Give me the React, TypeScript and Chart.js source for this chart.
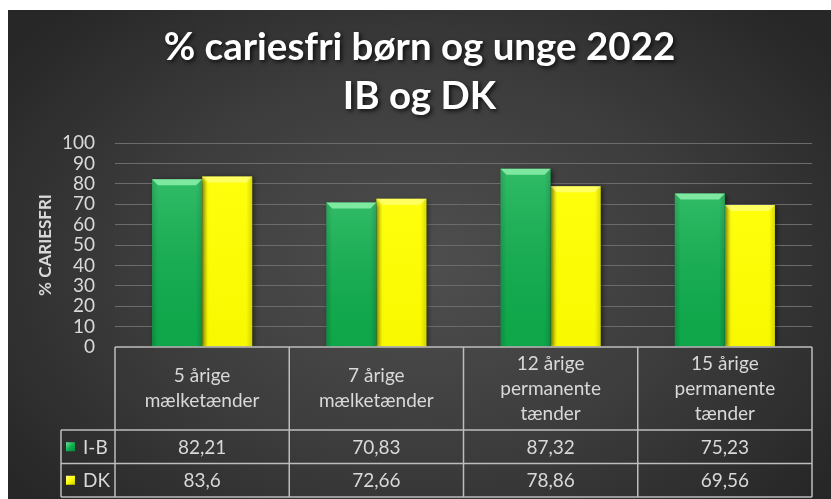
import React, { useEffect, useRef } from "react";
import { Chart, registerables } from "chart.js";

Chart.register(...registerables);

const TITLE_LINES = ["% cariesfri børn og unge 2022", "IB og DK"];
const Y_AXIS_TITLE = "% CARIESFRI";
const CATEGORY_LINES = [
  ["5 årige", "mælketænder"],
  ["7 årige", "mælketænder"],
  ["12 årige", "permanente", "tænder"],
  ["15 årige", "permanente", "tænder"],
];
const CATEGORIES = CATEGORY_LINES.map((l) => l.join(" "));
const SERIES_NAMES = ["I-B", "DK"];
const IB_VALUES = [82.21, 70.83, 87.32, 75.23];
const DK_VALUES = [83.6, 72.66, 78.86, 69.56];
const Y_MIN = 0;
const Y_MAX = 100;
const Y_STEP = 10;

const SERIES_COLORS = ["#0fb14e", "#ffff00"];
const TEXT_COLOR = "#d9d9d9";
const FONT = "Lato, 'Open Sans', sans-serif";

const fmt = (v: number) => String(v).replace(".", ",");

const titlePlugin = {
  id: "titleShadow",
  afterDraw(chart: any) {
    const ctx = chart.ctx;
    ctx.save();
    ctx.font = `bold 38.5px ${FONT}`;
    ctx.fillStyle = "#ffffff";
    ctx.textAlign = "center";
    ctx.textBaseline = "middle";
    ctx.shadowColor = "rgba(0,0,0,0.75)";
    ctx.shadowBlur = 4;
    ctx.shadowOffsetX = 2;
    ctx.shadowOffsetY = 2;
    const cx = chart.width / 2;
    const ys = [38, 87];
    TITLE_LINES.forEach((t, i) => ctx.fillText(t, cx, ys[i]));
    ctx.restore();
  },
};

const barFxPlugin = {
  id: "barFx",
  beforeDatasetsDraw(chart: any) {
    const ctx = chart.ctx;
    ctx.save();
    ctx.shadowColor = "rgba(0,0,0,0.6)";
    ctx.shadowBlur = 5;
    ctx.shadowOffsetX = 2;
    ctx.shadowOffsetY = 1;
  },
  afterDatasetsDraw(chart: any) {
    const ctx = chart.ctx;
    ctx.restore();
    ctx.save();
    chart.data.datasets.forEach((ds: any, di: number) => {
      const meta = chart.getDatasetMeta(di);
      meta.data.forEach((el: any) => {
        const { x, y, base, width } = el.getProps(["x", "y", "base", "width"], true);
        const l = x - width / 2;
        const r = x + width / 2;
        const h = base - y;
        const hg = ctx.createLinearGradient(l, 0, r, 0);
        hg.addColorStop(0, "rgba(0,0,0,0.16)");
        hg.addColorStop(0.12, "rgba(0,0,0,0)");
        hg.addColorStop(0.88, "rgba(0,0,0,0)");
        hg.addColorStop(1, "rgba(0,0,0,0.16)");
        ctx.fillStyle = hg;
        ctx.fillRect(l, y, width, h);
        const vg = ctx.createLinearGradient(0, y, 0, base);
        if (di === 0) {
          vg.addColorStop(0, "rgba(255,255,255,0.14)");
          vg.addColorStop(1, "rgba(0,0,0,0.06)");
        } else {
          vg.addColorStop(0, "rgba(255,255,255,0.05)");
          vg.addColorStop(1, "rgba(120,120,0,0.05)");
        }
        ctx.fillStyle = vg;
        ctx.fillRect(l, y, width, h);
        const b = 6;
        ctx.beginPath();
        ctx.moveTo(l, y);
        ctx.lineTo(r, y);
        ctx.lineTo(r - b, y + b);
        ctx.lineTo(l + b, y + b);
        ctx.closePath();
        ctx.fillStyle = di === 0 ? "rgba(140,240,170,0.85)" : "rgba(255,255,170,0.55)";
        ctx.fill();
      });
    });
    ctx.restore();
  },
};

const tablePlugin = {
  id: "dataTable",
  afterDraw(chart: any) {
    const ctx = chart.ctx;
    const area = chart.chartArea;
    const n = CATEGORIES.length;
    const colW = (area.right - area.left) / n;
    const top = area.bottom;
    const headerBottom = top + 83;
    const rowH = 33.5;
    const legendLeft = 53;
    const rows = [IB_VALUES, DK_VALUES];
    const tableBottom = headerBottom + rowH * rows.length;

    ctx.save();
    ctx.strokeStyle = "#bdbdbd";
    ctx.lineWidth = 1.5;
    ctx.beginPath();
    ctx.moveTo(area.left, top);
    ctx.lineTo(area.right, top);
    for (let r = 0; r <= rows.length; r++) {
      const yy = headerBottom + r * rowH;
      ctx.moveTo(legendLeft, yy);
      ctx.lineTo(area.right, yy);
    }
    for (let i = 0; i <= n; i++) {
      const xx = area.left + i * colW;
      ctx.moveTo(xx, top);
      ctx.lineTo(xx, tableBottom);
    }
    ctx.moveTo(legendLeft, headerBottom);
    ctx.lineTo(legendLeft, tableBottom);
    ctx.stroke();

    ctx.fillStyle = TEXT_COLOR;
    ctx.font = `19px ${FONT}`;
    ctx.textAlign = "center";
    ctx.textBaseline = "middle";
    const xScale = chart.scales.x;
    CATEGORY_LINES.forEach((lines, i) => {
      const cx = xScale.getPixelForValue(i);
      const cy = (top + headerBottom) / 2;
      const lh = 25;
      lines.forEach((t, k) => {
        ctx.fillText(t, cx, cy + (k - (lines.length - 1) / 2) * lh);
      });
    });
    rows.forEach((vals, r) => {
      const cy = headerBottom + r * rowH + rowH / 2;
      vals.forEach((v, i) => {
        const cx = xScale.getPixelForValue(i);
        ctx.fillText(fmt(v), cx, cy + 1);
      });
      const kx = 58;
      const ks = 9;
      const ky = cy - ks / 2;
      const g = ctx.createLinearGradient(kx, ky, kx + ks, ky + ks);
      if (r === 0) {
        g.addColorStop(0, "#6fe39a");
        g.addColorStop(0.5, SERIES_COLORS[0]);
        g.addColorStop(1, "#078a3a");
      } else {
        g.addColorStop(0, "#ffff99");
        g.addColorStop(0.5, SERIES_COLORS[1]);
        g.addColorStop(1, "#c8c800");
      }
      ctx.fillStyle = g;
      ctx.fillRect(kx, ky, ks, ks);
      ctx.fillStyle = TEXT_COLOR;
      ctx.textAlign = "left";
      ctx.fillText(SERIES_NAMES[r], 75, cy + 1);
      ctx.textAlign = "center";
    });
    ctx.restore();
  },
};

export default function App() {
  const canvasRef = useRef<HTMLCanvasElement | null>(null);

  useEffect(() => {
    const canvas = canvasRef.current;
    if (!canvas) return;
    const chart = new Chart(canvas, {
      type: "bar",
      data: {
        labels: CATEGORIES,
        datasets: [
          {
            label: SERIES_NAMES[0],
            data: IB_VALUES,
            backgroundColor: SERIES_COLORS[0],
            borderWidth: 0,
          },
          {
            label: SERIES_NAMES[1],
            data: DK_VALUES,
            backgroundColor: SERIES_COLORS[1],
            borderWidth: 0,
          },
        ],
      },
      options: {
        animation: false,
        responsive: false,
        maintainAspectRatio: false,
        devicePixelRatio: 1,
        layout: { padding: { top: 133, right: 19, bottom: 152, left: 0 } },
        datasets: {
          bar: { categoryPercentage: 0.575, barPercentage: 1.0 },
        },
        plugins: {
          legend: { display: false },
          title: { display: false },
          tooltip: { enabled: false },
        },
        scales: {
          x: {
            display: false,
            offset: true,
            grid: { display: false },
          },
          y: {
            min: Y_MIN,
            max: Y_MAX,
            border: { display: false },
            afterFit: (axis: any) => {
              axis.width = 107;
            },
            ticks: {
              stepSize: Y_STEP,
              autoSkip: false,
              color: TEXT_COLOR,
              font: { family: FONT, size: 19 },
              padding: 20,
            },
            grid: {
              drawTicks: false,
              color: (c: any) => (c.tick && c.tick.value === 0 ? "rgba(0,0,0,0)" : "#6c6c6c"),
              lineWidth: 1,
            },
            title: {
              display: true,
              text: Y_AXIS_TITLE,
              color: TEXT_COLOR,
              font: { family: FONT, size: 17, weight: "bold" },
              padding: { top: 27, bottom: 0 },
            },
          },
        },
      },
      plugins: [barFxPlugin, tablePlugin, titlePlugin],
    });
    return () => chart.destroy();
  }, []);

  return (
    <div
      style={{
        position: "fixed",
        left: 8,
        top: 10,
        width: 823,
        height: 489,
        background:
          "radial-gradient(ellipse 62% 72% at 50% 52%, #4f4f4f 0%, #3c3c3c 55%, #272727 100%)",
      }}
    >
      <canvas ref={canvasRef} width={823} height={489} style={{ display: "block" }} />
    </div>
  );
}
